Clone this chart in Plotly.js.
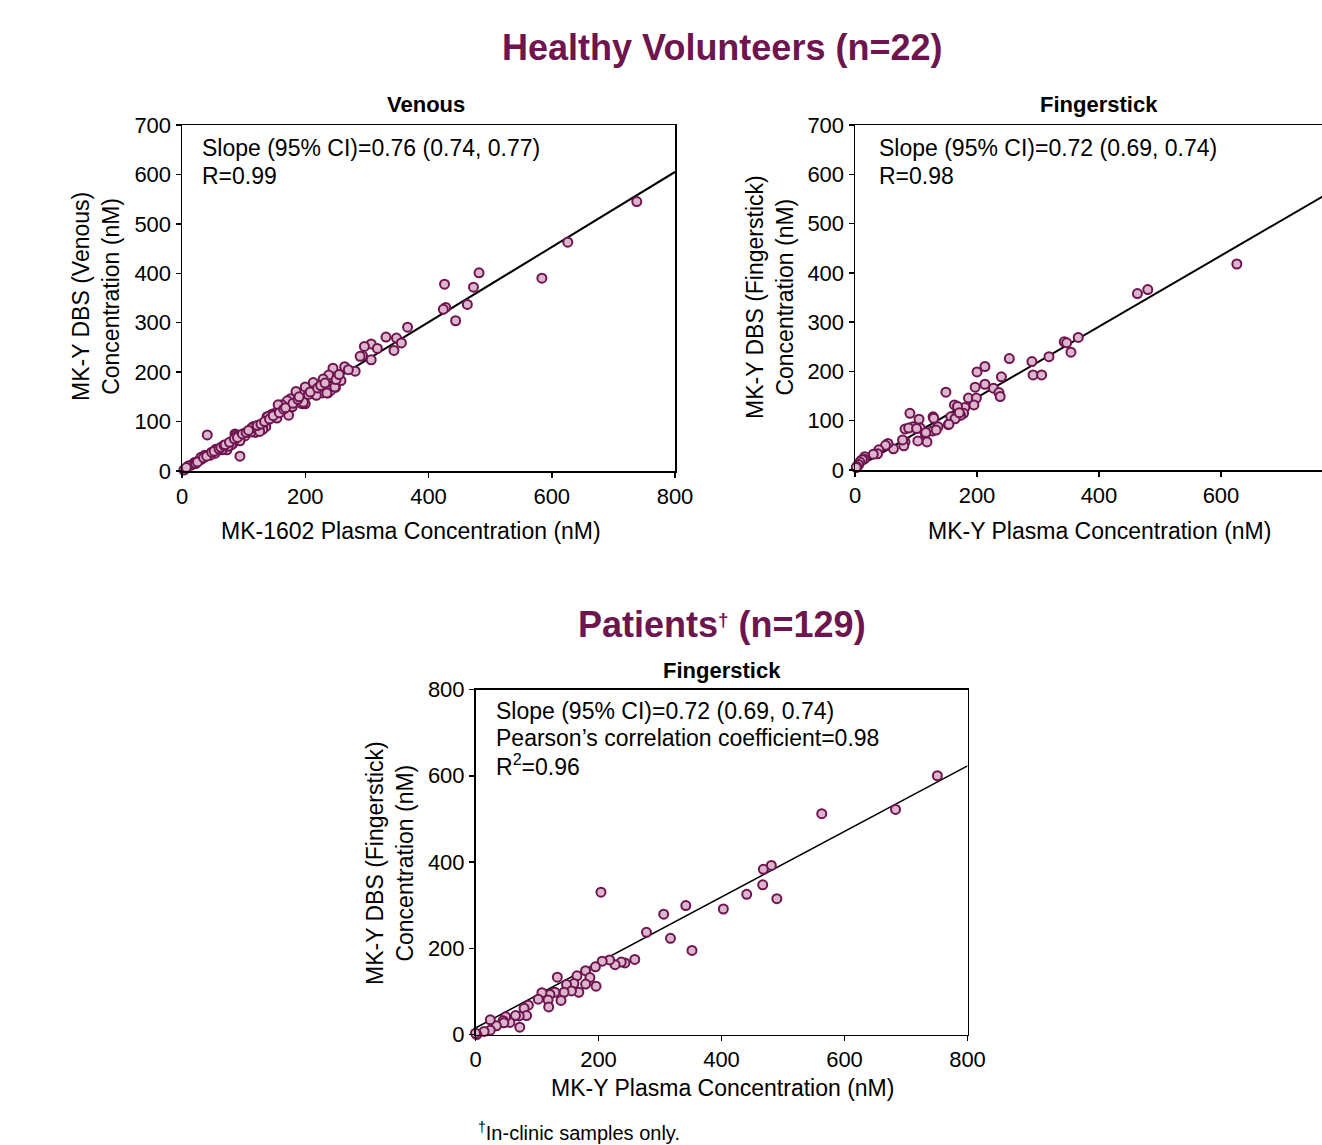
<!DOCTYPE html>
<html>
<head>
<meta charset="utf-8">
<script src="https://cdn.plot.ly/plotly-3.0.1.min.js"></script>
<style>html,body{margin:0;padding:0;background:#fff}#chart{width:1322px;height:1145px}</style>
</head>
<body>
<div id="chart"></div>
<script>
// ---------- DATA ----------
const venousX = [584,482,426,473,463,444,428,424,366,331,348,356,344,307,296,317,293,289,307,281,264,245,238,229,258,249,237,213,200,212,228,241,248,200,196,185,176,171,179,173,162,151,154,138,146,136,131,116,119,112,102,86,94,83,94,41,79,73,65,54,46,32,27,20,15,10,5,3,218,194,197,131,126,156,145,139,113,88,91,80,75,59,55,37,31,7,235,738,626,22,25,35,40,48,52,60,63,68,70,77,85,90,98,104,108,122,128,134,142,148,158,165,168,180,188,190,205,208,220,225,232,250,255,270];
const venousY = [390,401,378,372,337,304,331,327,291,271,269,259,244,257,252,248,233,232,225,202,211,208,194,186,183,169,158,179,170,157,158,163,170,136,136,161,146,142,130,113,134,117,107,110,115,90,93,90,78,79,71,75,61,56,30,73,55,43,43,36,32,24,21,17,12,10,4,2,153,137,139,84,80,134,113,110,87,73,71,53,50,43,44,32,28,7,158,545,463,15,18,27,30,38,40,45,48,52,53,58,65,68,75,78,82,92,95,100,105,112,118,125,128,137,145,150,155,160,168,173,178,185,195,205];

const fingerHVX = [626,463,480,366,343,347,354,318,290,292,306,253,213,200,240,213,197,227,236,238,149,186,199,195,180,163,168,178,173,157,164,153,90,105,128,129,136,127,115,118,103,107,95,82,88,101,133,116,82,80,78,63,54,50,39,37,30,16,15,10,12,8,5,6,3,2,171,154];
const fingerHVY = [418,358,366,269,260,258,239,230,220,193,193,226,210,199,189,174,168,166,157,149,158,146,146,132,127,132,129,115,111,108,104,92,115,103,108,105,88,79,74,57,59,85,88,83,85,84,81,76,57,49,61,43,54,50,41,33,32,27,22,19,21,16,10,11,7,5,116,93];

const patientX = [751,683,563,481,468,467,490,441,403,342,352,317,306,278,204,259,243,237,227,218,206,195,196,179,186,179,165,160,148,168,156,144,133,129,139,121,118,108,102,119,86,79,83,71,65,56,49,45,46,34,24,24,14,2,0,72];
const patientY = [600,522,512,392,383,347,315,325,291,299,195,223,279,237,330,174,166,168,162,173,170,157,112,148,132,117,136,118,116,98,101,98,133,98,79,93,80,97,82,64,68,61,44,43,44,28,41,32,27,20,34,10,7,0,3,17];

// fitted lines (slope, intercept) as drawn
const fitSlope = [0.76, 0.72, 0.76];
const fitIntercept = [-3, 3, 15];
const fitXRange = [[0, 800], [0, 800], [0, 800]];

const xTicks = [0, 200, 400, 600, 800];
const yTicksHV = [0, 100, 200, 300, 400, 500, 600, 700];
const yTicksPt = [0, 200, 400, 600, 800];

// ---------- STYLE ----------
const W = 1322, H = 1145;
const PURPLE = '#6e1550';
const FILL = '#dbb6cc';
const FONT = 'Liberation Sans, Arial, sans-serif';
const px = x => x / W, py = y => 1 - y / H;

function pts(x, y, xa, ya) {
  return {type: 'scatter', mode: 'markers', x: x, y: y, xaxis: xa, yaxis: ya, cliponaxis: false,
    marker: {size: 9, color: FILL, line: {color: PURPLE, width: 2}}, hoverinfo: 'skip'};
}
function fit(i, xa, ya, w) {
  const xs = fitXRange[i];
  return {type: 'scatter', mode: 'lines', x: xs, y: xs.map(v => fitSlope[i] * v + fitIntercept[i]),
    xaxis: xa, yaxis: ya, line: {color: '#000', width: w}, hoverinfo: 'skip'};
}

const data = [
  fit(0, 'x', 'y', 2), pts(venousX, venousY, 'x', 'y'),
  fit(1, 'x2', 'y2', 2), pts(fingerHVX, fingerHVY, 'x2', 'y2'),
  fit(2, 'x3', 'y3', 1.5), pts(patientX, patientY, 'x3', 'y3')
];

function ax(extra) {
  return Object.assign({showgrid: false, zeroline: false, showline: true, linecolor: '#000', linewidth: 1.5,
    ticks: 'outside', ticklen: 5, tickwidth: 1.5, tickcolor: '#000', ticklabelstandoff: 0,
    tickfont: {family: FONT, size: 22, color: '#000'}, fixedrange: true}, extra);
}

const layout = {
  width: W, height: H, margin: {l: 0, r: 0, t: 0, b: 0}, showlegend: false,
  paper_bgcolor: '#fff', plot_bgcolor: '#fff', font: {family: FONT, color: '#000'},
  xaxis: ax({domain: [px(182), px(675)], range: [0, 800], tickvals: xTicks, mirror: true, anchor: 'y'}),
  yaxis: ax({domain: [py(471), py(125)], range: [0, 700], tickvals: yTicksHV, mirror: true, anchor: 'x'}),
  xaxis2: ax({domain: [px(855), 1], range: [0, 765.6], tickvals: xTicks.slice(0, 4), mirror: true, anchor: 'y2'}),
  yaxis2: ax({domain: [py(470), py(125)], range: [0, 700], tickvals: yTicksHV, mirror: false, anchor: 'x2'}),
  xaxis3: ax({domain: [px(475.5), px(967.5)], range: [0, 800], tickvals: xTicks, mirror: true, anchor: 'y3'}),
  yaxis3: ax({domain: [py(1034.5), py(689.5)], range: [0, 800], tickvals: yTicksPt, mirror: true, anchor: 'x3'}),
  annotations: []
};

function ann(text, x, y, opts) {
  layout.annotations.push(Object.assign({xref: 'paper', yref: 'paper', x: px(x), y: py(y), text: text,
    showarrow: false, xanchor: 'center', yanchor: 'middle', font: {family: FONT, size: 22, color: '#000'}}, opts || {}));
}
const F23 = {family: FONT, size: 23, color: '#000'};

// titles
ann('<b>Healthy Volunteers (n=22)</b>', 722, 47, {font: {family: FONT, size: 36, color: PURPLE}});
ann('<b>Patients<span style="font-size:27px"><sup>†</sup></span> (n=129)</b>', 722, 624, {font: {family: FONT, size: 36, color: PURPLE}});
ann('<b>Venous</b>', 426, 104);
ann('<b>Fingerstick</b>', 1099, 104);
ann('<b>Fingerstick</b>', 722, 670);

// stats text
ann('Slope (95% CI)=0.76 (0.74, 0.77)', 200, 148, {xanchor: 'left', font: F23});
ann('R=0.99', 200, 176, {xanchor: 'left', font: F23});
ann('Slope (95% CI)=0.72 (0.69, 0.74)', 877, 148, {xanchor: 'left', font: F23});
ann('R=0.98', 877, 176, {xanchor: 'left', font: F23});
ann('Slope (95% CI)=0.72 (0.69, 0.74)', 494, 711, {xanchor: 'left', font: F23});
ann('Pearson’s correlation coefficient=0.98', 494, 738, {xanchor: 'left', font: F23});
ann('R<sup>2</sup>=0.96', 494, 765, {xanchor: 'left', font: F23});

// axis titles
ann('MK-1602 Plasma Concentration (nM)', 411, 531, {font: F23});
ann('MK-Y Plasma Concentration (nM)', 1099, 531, {font: F23});
ann('MK-Y Plasma Concentration (nM)', 722, 1088, {font: F23});
ann('MK-Y DBS (Venous)<br>Concentration (nM)', 96, 297, {textangle: -90, font: F23});
ann('MK-Y DBS (Fingerstick)<br>Concentration (nM)', 770, 297, {textangle: -90, font: F23});
ann('MK-Y DBS (Fingerstick)<br>Concentration (nM)', 390, 863, {textangle: -90, font: F23});

// footnote
ann('<sup>†</sup>In-clinic samples only.', 476, 1131, {xanchor: 'left', font: {family: FONT, size: 20, color: '#000'}});

Plotly.newPlot('chart', data, layout, {staticPlot: true, displayModeBar: false});
</script>
</body>
</html>
